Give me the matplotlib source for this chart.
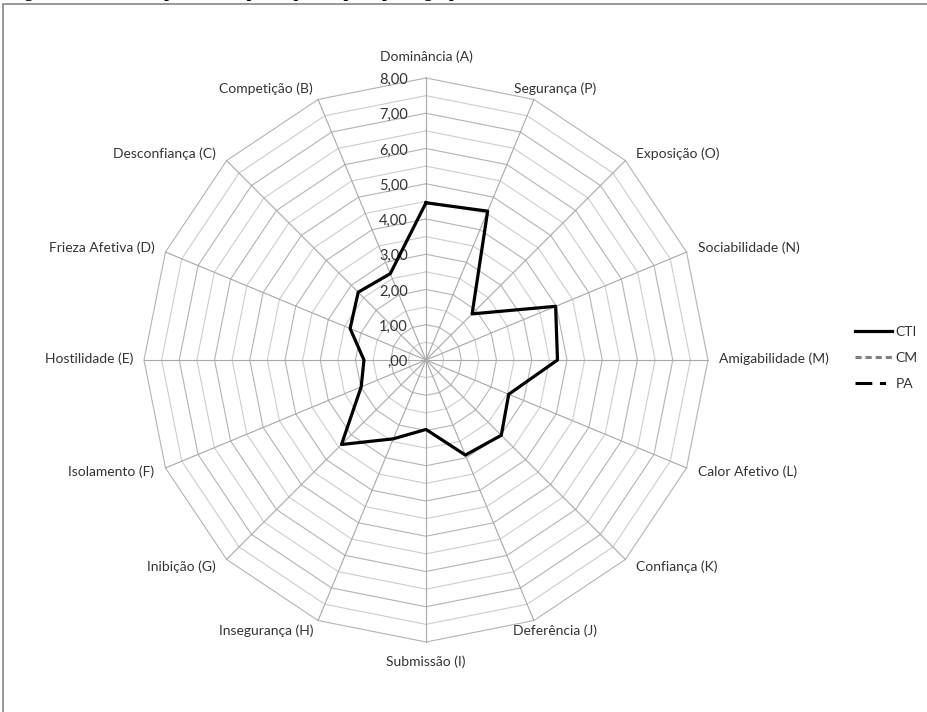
import numpy as np
import matplotlib.pyplot as plt
from matplotlib.patches import Rectangle

# eixos do radar, no sentido horario a partir do topo
categorias = ["Dominância (A)", "Segurança (P)", "Exposição (O)", "Sociabilidade (N)",
              "Amigabilidade (M)", "Calor Afetivo (L)", "Confiança (K)", "Deferência (J)",
              "Submissão (I)", "Insegurança (H)", "Inibição (G)", "Isolamento (F)",
              "Hostilidade (E)", "Frieza Afetiva (D)", "Desconfiança (C)", "Competição (B)"]
cti = [4.46, 4.57, 1.85, 3.98, 3.73, 2.54, 3.02, 2.92,
       1.97, 2.42, 3.39, 1.99, 1.76, 2.33, 2.72, 2.65]
cm = []
pa = []
escala = [0, 1, 2, 3, 4, 5, 6, 7, 8]
rotulos_escala = [",00", "1,00", "2,00", "3,00", "4,00", "5,00", "6,00", "7,00", "8,00"]
titulo = "Figura 4 – Perfil interpessoal dos participantes por tipo de grupo"

W, H = 928, 712
cx, cy = 426, H - 360      # centro em pixels
R = 8
k = 282 / R                # pixels por unidade
px = 1 / k

fig = plt.figure(figsize=(W / 100, H / 100), dpi=100)
ax = fig.add_axes([0, 0, 1, 1])
ax.set_xlim(-cx / k, (W - cx) / k)
ax.set_ylim(-cy / k, (H - cy) / k)
ax.axis("off")

n = len(categorias)
ang = np.arange(n) * 2 * np.pi / n


def xy(vals):
    v = np.asarray(vals, dtype=float)
    a = ang[:len(v)]
    return np.append(v * np.sin(a), v[:1] * np.sin(a[:1])), np.append(v * np.cos(a), v[:1] * np.cos(a[:1]))


# grade poligonal
for r in np.arange(0.5, R + 0.01, 0.5):
    gx, gy = xy([r] * n)
    cor = "#b4b4b4" if float(r).is_integer() else "#cdcdcd"
    ax.plot(gx, gy, color=cor, lw=0.8, zorder=1)
for a in ang:
    ax.plot([0, R * np.sin(a)], [0, R * np.cos(a)], color="#a8a8a8", lw=0.8, zorder=1)

# escala
for v, t in zip(escala, rotulos_escala):
    ax.text(-18 * px, v - 2 * px, t, ha="right", va="center", fontsize=10.5,
            family="Lato", color="#333333", zorder=2)

# rotulos das categorias
for nome, a in zip(categorias, ang):
    s, c = np.sin(a), np.cos(a)
    x, y = R * s, R * c
    if abs(s) < 1e-9:
        ha, dx, dy = "center", 0, (21 if c > 0 else -20)
    elif abs(s) < 0.5:
        if s > 0:
            ha, dx = "center", 21
        else:
            ha, dx = "right", -5
        dy = 11 if c > 0 else -10
    else:
        ha = "left" if s > 0 else "right"
        dx = 11 * np.sign(s)
        dy = 1 + (8 * c if c >= 0 else 12 * c)
    ax.text(x + dx * px, y + dy * px, nome, ha=ha, va="center", fontsize=10,
            family="Lato", color="#333333")

# series
lx, ly = xy(cti)
ax.plot(lx, ly, color="black", lw=2.3, label="CTI", zorder=3)
ax.plot(*xy(cm) if cm else ([], []), color="#808080", lw=2.2, dashes=(2, 1.3), label="CM")
ax.plot(*xy(pa) if pa else ([], []), color="black", lw=2.2, dashes=(5.5, 2.5, 2, 2.5), label="PA")

fig.legend(loc="center left", bbox_to_anchor=(855 / W, (H - 358) / H), frameon=False,
           borderpad=0, borderaxespad=0, handlelength=2.7, handletextpad=0.2,
           labelspacing=1.0, prop={"family": "Lato", "size": 10}, labelcolor="#333333")

# moldura da area do grafico
fig.add_artist(Rectangle((3 / W, -0.1), 2, 1.1 - 4 / H, transform=fig.transFigure,
                         fill=False, edgecolor="#868686", lw=1.2))

# titulo cortado no topo (so as hastes aparecem)
fig.text(10 / W, 1 + 3 / H, titulo, va="baseline", ha="left", fontsize=12,
         family="Liberation Serif", weight="bold")

fig.savefig("out.png", dpi=100)
